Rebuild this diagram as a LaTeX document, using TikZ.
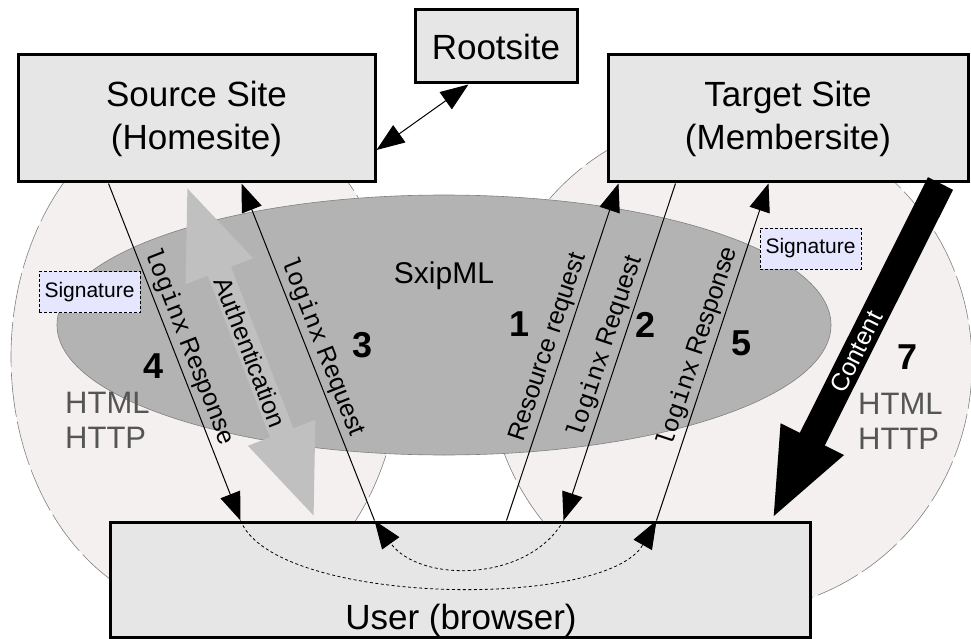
\documentclass[tikz,border=0pt]{standalone}
\usepackage{fontspec}
\setmainfont{Liberation Sans}
\setmonofont{Liberation Mono}
\usetikzlibrary{arrows.meta,calc}

\definecolor{boxfill}{RGB}{230,230,230}
\definecolor{zonefill}{RGB}{243,240,239}
\definecolor{zoneline}{RGB}{128,128,128}
\definecolor{sxipfill}{RGB}{179,179,179}
\definecolor{authfill}{RGB}{192,192,192}
\definecolor{sigfill}{RGB}{230,230,255}
\definecolor{protocol}{RGB}{85,85,85}

\begin{document}
\begin{tikzpicture}[x=1pt,y=-1pt,
  >={Triangle[length=28pt,width=21pt]},
  site/.style={draw=black, line width=3pt, fill=boxfill, align=center,
               inner sep=0pt, font=\fontsize{35}{43}\selectfont},
  zone/.style={fill=zonefill, draw=zoneline, line width=0.6pt,
               dash pattern=on 45pt off 5pt},
  msg/.style={draw=black, line width=1pt},
  redirect/.style={draw=black, line width=0.8pt, dash pattern=on 3pt off 2.5pt},
  msglabel/.style={font=\fontsize{25}{25}\selectfont, inner sep=3pt,
                   sloped, above, midway},
  stepno/.style={font=\fontsize{36}{36}\selectfont\bfseries, inner sep=0pt},
  sig/.style={draw=black, line width=0.8pt, dash pattern=on 3pt off 2pt,
              fill=sigfill, minimum width=101pt, minimum height=41pt,
              inner sep=0pt, font=\fontsize{21}{21}\selectfont},
  proto/.style={text=protocol, font=\fontsize{31}{35}\selectfont,
                align=left, inner sep=0pt, anchor=base west},
]
\useasboundingbox (0,0) rectangle (971,639);

% HTML/HTTP zones around each site
\path[zone] (206,357) ellipse [x radius=195, y radius=255];
\path[zone] (730,364) ellipse [x radius=242, y radius=248];

% SxipML layer
\path[fill=sxipfill, draw=zoneline, line width=0.6pt]
  (444,325) ellipse [x radius=387, y radius=130];
\node[font=\fontsize{30}{30}\selectfont, anchor=base, inner sep=0pt] (sxip)
  at (444,283) {SxipML};

% sites
\node[site, minimum width=357pt, minimum height=127pt] (src) at (196.5,118.5)
  {Source Site\\(Homesite)};
\node[site, minimum width=162pt, minimum height=73pt] (root) at (496,46.5)
  {Rootsite};
\node[site, minimum width=360pt, minimum height=127pt] (tgt) at (788,118.5)
  {Target Site\\(Membersite)};
\node[site, minimum width=700pt, minimum height=115pt] (usr) at (460,579.5) {};
\node[font=\fontsize{35}{35}\selectfont, anchor=base, inner sep=0pt] (usrlabel)
  at (461,629) {User (browser)};

% signature tags
\node[sig] (sigL) at (89.5,292) {Signature};
\node[sig] (sigR) at (810.5,248.5) {Signature};

% attachment points on the box edges
\coordinate (s4) at ([xshift=92pt]src.south west);
\coordinate (sA) at ([xshift=169pt]src.south west);
\coordinate (s3) at ([xshift=225pt]src.south west);
\coordinate (sR) at ([yshift=-31.5pt]src.east);
\coordinate (rR) at ([xshift=55pt]root.south west);
\coordinate (t1) at ([xshift=12pt]tgt.south west);
\coordinate (t2) at ([xshift=69pt]tgt.south west);
\coordinate (t5) at ([xshift=162pt]tgt.south west);
\coordinate (t7) at ([xshift=334pt]tgt.south west);
\coordinate (u4) at ([xshift=132pt]usr.north west);
\coordinate (uA) at ([xshift=207pt]usr.north west);
\coordinate (u3) at ([xshift=266pt]usr.north west);
\coordinate (u1) at ([xshift=398pt]usr.north west);
\coordinate (u2) at ([xshift=455pt]usr.north west);
\coordinate (u5) at ([xshift=548pt]usr.north west);
\coordinate (u7) at ([xshift=663pt]usr.north west);

% authentication between user and home site
\draw[draw=authfill, line width=25pt,
      {Triangle[length=94pt,width=64pt]}-{Triangle[length=94pt,width=64pt]}]
  (sA) -- node[midway, sloped, text=black, font=\fontsize{25}{25}\selectfont]
  {Authentication} (uA);

% content delivery
\draw[draw=black, line width=28pt, -{Triangle[length=91pt,width=63pt]}]
  (t7) -- node[midway, sloped, text=white, font=\fontsize{25}{25}\selectfont]
  {Content} (u7);

% protocol messages
\draw[msg,<->] (sR) -- (rR);
\draw[msg,->] (u1) -- node[msglabel] {Resource request} (t1);
\draw[msg,->] (t2) -- node[msglabel] {\texttt{loginx} Request} (u2);
\draw[msg,->] (u3) -- node[msglabel] {\texttt{loginx} Request} (s3);
\draw[msg,->] (s4) -- node[msglabel] {\texttt{loginx} Response} (u4);
\draw[msg,->] (u5) -- node[msglabel] {\texttt{loginx} Response} (t5);

% browser redirects
\draw[redirect,->] (u2) .. controls (528,583) and (419,583) .. (u3);
\draw[redirect,->] (u4) .. controls (275,606) and (606,610) .. (u5);

% step numbers
\node[stepno] (n1) at (520,324) {1};
\node[stepno] (n2) at (646,325) {2};
\node[stepno] (n3) at (363,345) {3};
\node[stepno] (n4) at (154,366) {4};
\node[stepno] (n5) at (741,343) {5};
\node[stepno] (n7) at (907,357) {7};

% transport protocols
\node[proto] (protoL) at (65,448) {HTML\\HTTP};
\node[proto] (protoR) at (858,449) {HTML\\HTTP};
\end{tikzpicture}
\end{document}
